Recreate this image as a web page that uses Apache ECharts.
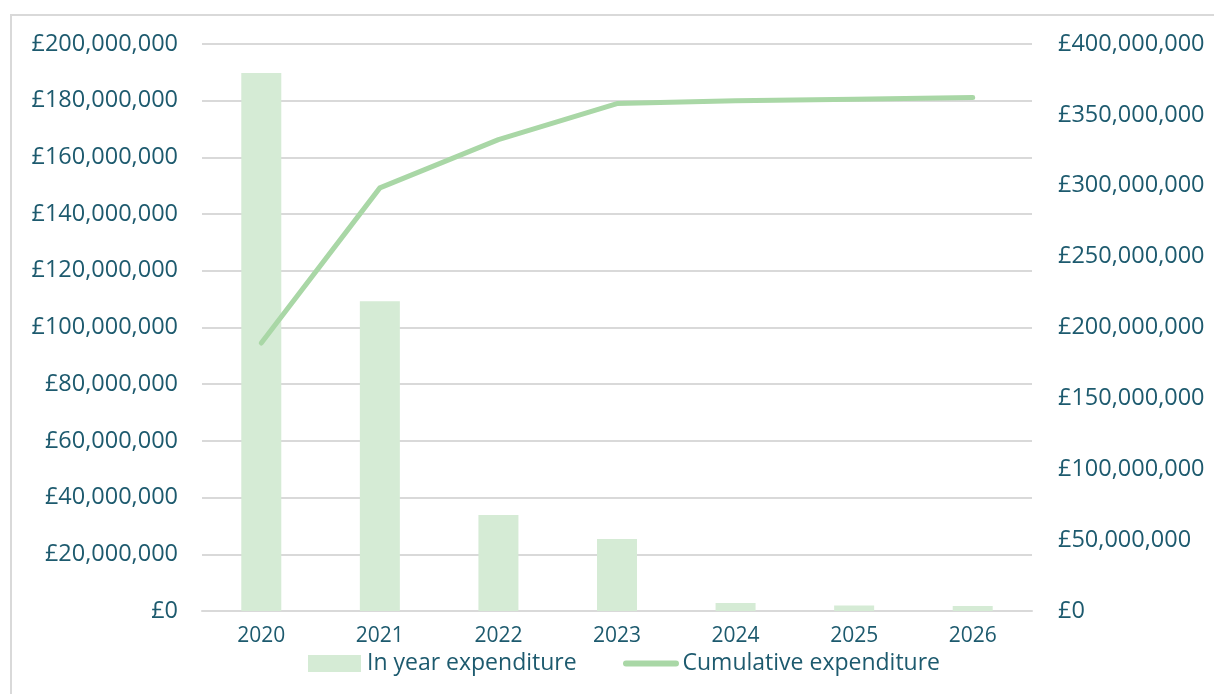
<!DOCTYPE html>
<html>
<head>
<meta charset="utf-8">
<script src="https://cdn.jsdelivr.net/npm/echarts@6/dist/echarts.min.js"></script>
<style>
html,body{margin:0;padding:0;background:#fff;}
#frame{position:absolute;left:10px;top:14px;width:1210px;height:690px;border-left:2px solid #d9d9d9;border-top:2px solid #d9d9d9;}
#chart{position:absolute;left:0;top:0;width:1214px;height:694px;}
</style>
</head>
<body>
<div id="frame"></div>
<div id="chart"></div>
<script>
const years = ['2020','2021','2022','2023','2024','2025','2026'];
const inYearExpenditure = [189.8e6, 109.3e6, 33.9e6, 25.4e6, 2.8e6, 1.9e6, 1.8e6];
const cumulativeExpenditure = [189e6, 298.5e6, 332.5e6, 358e6, 360e6, 361e6, 362.3e6];
const leftTicks = {min: 0, max: 200e6, interval: 20e6};
const rightTicks = {min: 0, max: 400e6, interval: 50e6};

const textColor = '#1d5a6e';
const fontFamily = '"Open Sans", Lato, sans-serif';
function gbp(v){ return '£' + Math.round(v).toLocaleString('en-GB'); }

const lineIcon = 'path://M0,0L56,0L56,0.01L0,0.01Z M3,7L53,7A3,3 0 0 1 53,13L3,13A3,3 0 0 1 3,7Z M0,19.99L56,19.99L56,20L0,20Z';

const chart = echarts.init(document.getElementById('chart'), null, {renderer:'canvas'});
chart.setOption({
  animation: false,
  textStyle: {fontFamily: fontFamily, color: textColor},
  grid: {left: 202, right: 182, top: 44, bottom: 83, containLabel: false},
  legend: [
    {
      left: 303, top: 647,
      itemWidth: 53, itemHeight: 17, itemGap: 0,
      textStyle: {fontSize: 23, color: textColor, fontFamily: fontFamily, padding: [0,0,0,1]},
      data: [{name: 'In year expenditure', icon: 'rect'}]
    },
    {
      left: 618, top: 647,
      itemWidth: 57, itemHeight: 20, itemGap: 0,
      textStyle: {fontSize: 23, color: textColor, fontFamily: fontFamily, padding: [0,0,0,-2]},
      data: [{name: 'Cumulative expenditure', icon: lineIcon, itemStyle: {color: '#a9d7a6'}}]
    }
  ],
  xAxis: {
    type: 'category',
    data: years,
    axisLine: {show: true, lineStyle: {color: '#d9d9d9', width: 2}},
    axisTick: {show: false},
    axisLabel: {fontSize: 21, color: textColor, margin: 15, fontFamily: fontFamily}
  },
  yAxis: [
    {
      type: 'value', min: leftTicks.min, max: leftTicks.max, interval: leftTicks.interval,
      axisLine: {show: false}, axisTick: {show: false},
      splitLine: {show: true, lineStyle: {color: '#d9d9d9', width: 2}},
      axisLabel: {fontSize: 23.5, color: textColor, margin: 24, formatter: gbp, fontFamily: fontFamily}
    },
    {
      type: 'value', min: rightTicks.min, max: rightTicks.max, interval: rightTicks.interval,
      position: 'right',
      axisLine: {show: false}, axisTick: {show: false},
      splitLine: {show: false},
      axisLabel: {fontSize: 23.5, color: textColor, margin: 26, formatter: gbp, fontFamily: fontFamily}
    }
  ],
  series: [
    {
      name: 'In year expenditure', type: 'bar', yAxisIndex: 0,
      data: inYearExpenditure, barWidth: 40,
      itemStyle: {color: '#d5ebd5'}
    },
    {
      name: 'Cumulative expenditure', type: 'line', yAxisIndex: 1,
      data: cumulativeExpenditure, symbol: 'none',
      lineStyle: {color: '#a9d7a6', width: 5, cap: 'round', join: 'round'},
      itemStyle: {color: '#a9d7a6'}
    }
  ]
});
</script>
</body>
</html>
